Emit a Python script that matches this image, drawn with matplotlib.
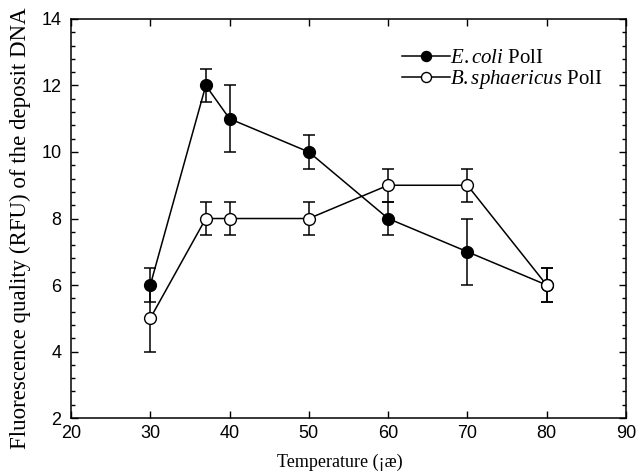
import matplotlib.pyplot as plt
from matplotlib.ticker import MultipleLocator, AutoMinorLocator

plt.rcParams['mathtext.fontset'] = 'custom'
plt.rcParams['mathtext.rm'] = 'Liberation Serif'
plt.rcParams['mathtext.it'] = 'Liberation Serif:italic'

# data
temps = [30, 37, 40, 50, 60, 70, 80]
ecoli = [6, 12, 11, 10, 8, 7, 6]
ecoli_err = [0.5, 0.5, 1, 0.5, 0.5, 1, 0.5]
bsph = [5, 8, 8, 8, 9, 9, 6]
bsph_err = [1, 0.5, 0.5, 0.5, 0.5, 0.5, 0.5]

fig = plt.figure(figsize=(6.4, 4.74), dpi=100)
ax = fig.add_axes([0.111, 0.118, 0.867, 0.842])

ax.errorbar(temps, ecoli, yerr=ecoli_err, color='black', lw=1.1,
            marker='o', ms=8.5, mfc='black', mec='black', capsize=4.5,
            elinewidth=1.1, capthick=1.1, label=r'$\mathit{E.coli}$ PolI')
ax.errorbar(temps, bsph, yerr=bsph_err, color='black', lw=1.1,
            marker='o', ms=8.5, mfc='white', mec='black', capsize=4.5,
            elinewidth=1.1, capthick=1.1, label=r'$\mathit{B.sphaericus}$ PolI')

ax.set_xlim(20, 90)
ax.set_ylim(2, 14)
ax.xaxis.set_major_locator(MultipleLocator(10))
ax.yaxis.set_major_locator(MultipleLocator(2))
ax.yaxis.set_minor_locator(AutoMinorLocator(5))
ax.tick_params(which='both', direction='in', top=True, right=True,
               labelsize=13, width=1)
ax.tick_params(which='major', length=5)
ax.tick_params(which='minor', length=3)
ax.tick_params(axis='y', pad=7)
ax.tick_params(axis='x', pad=5)
for lab in ax.get_xticklabels() + ax.get_yticklabels():
    lab.set_fontfamily('Liberation Sans')
for s in ax.spines.values():
    s.set_linewidth(1.1)

ax.set_xlabel('Temperature (¡æ)', fontfamily='Liberation Serif', fontsize=13)
ax.xaxis.set_label_coords(0.485, -0.088)
ax.set_ylabel('Fluorescence quality (RFU) of the deposit DNA',
              fontfamily='Liberation Serif', fontsize=16.5, va='center')
ax.yaxis.set_label_coords(-0.092, 0.476)

handles, labels = ax.get_legend_handles_labels()
handles = [h[0] for h in handles]
leg = ax.legend(handles, labels, loc='upper left', bbox_to_anchor=(0.596, 0.925),
                frameon=False, handlelength=2.3, handletextpad=0.0,
                markerscale=0.85, labelspacing=0.0, borderpad=0,
                borderaxespad=0,
                prop={'family': 'Liberation Serif', 'size': 15})

fig.savefig('out.png', dpi=100)
